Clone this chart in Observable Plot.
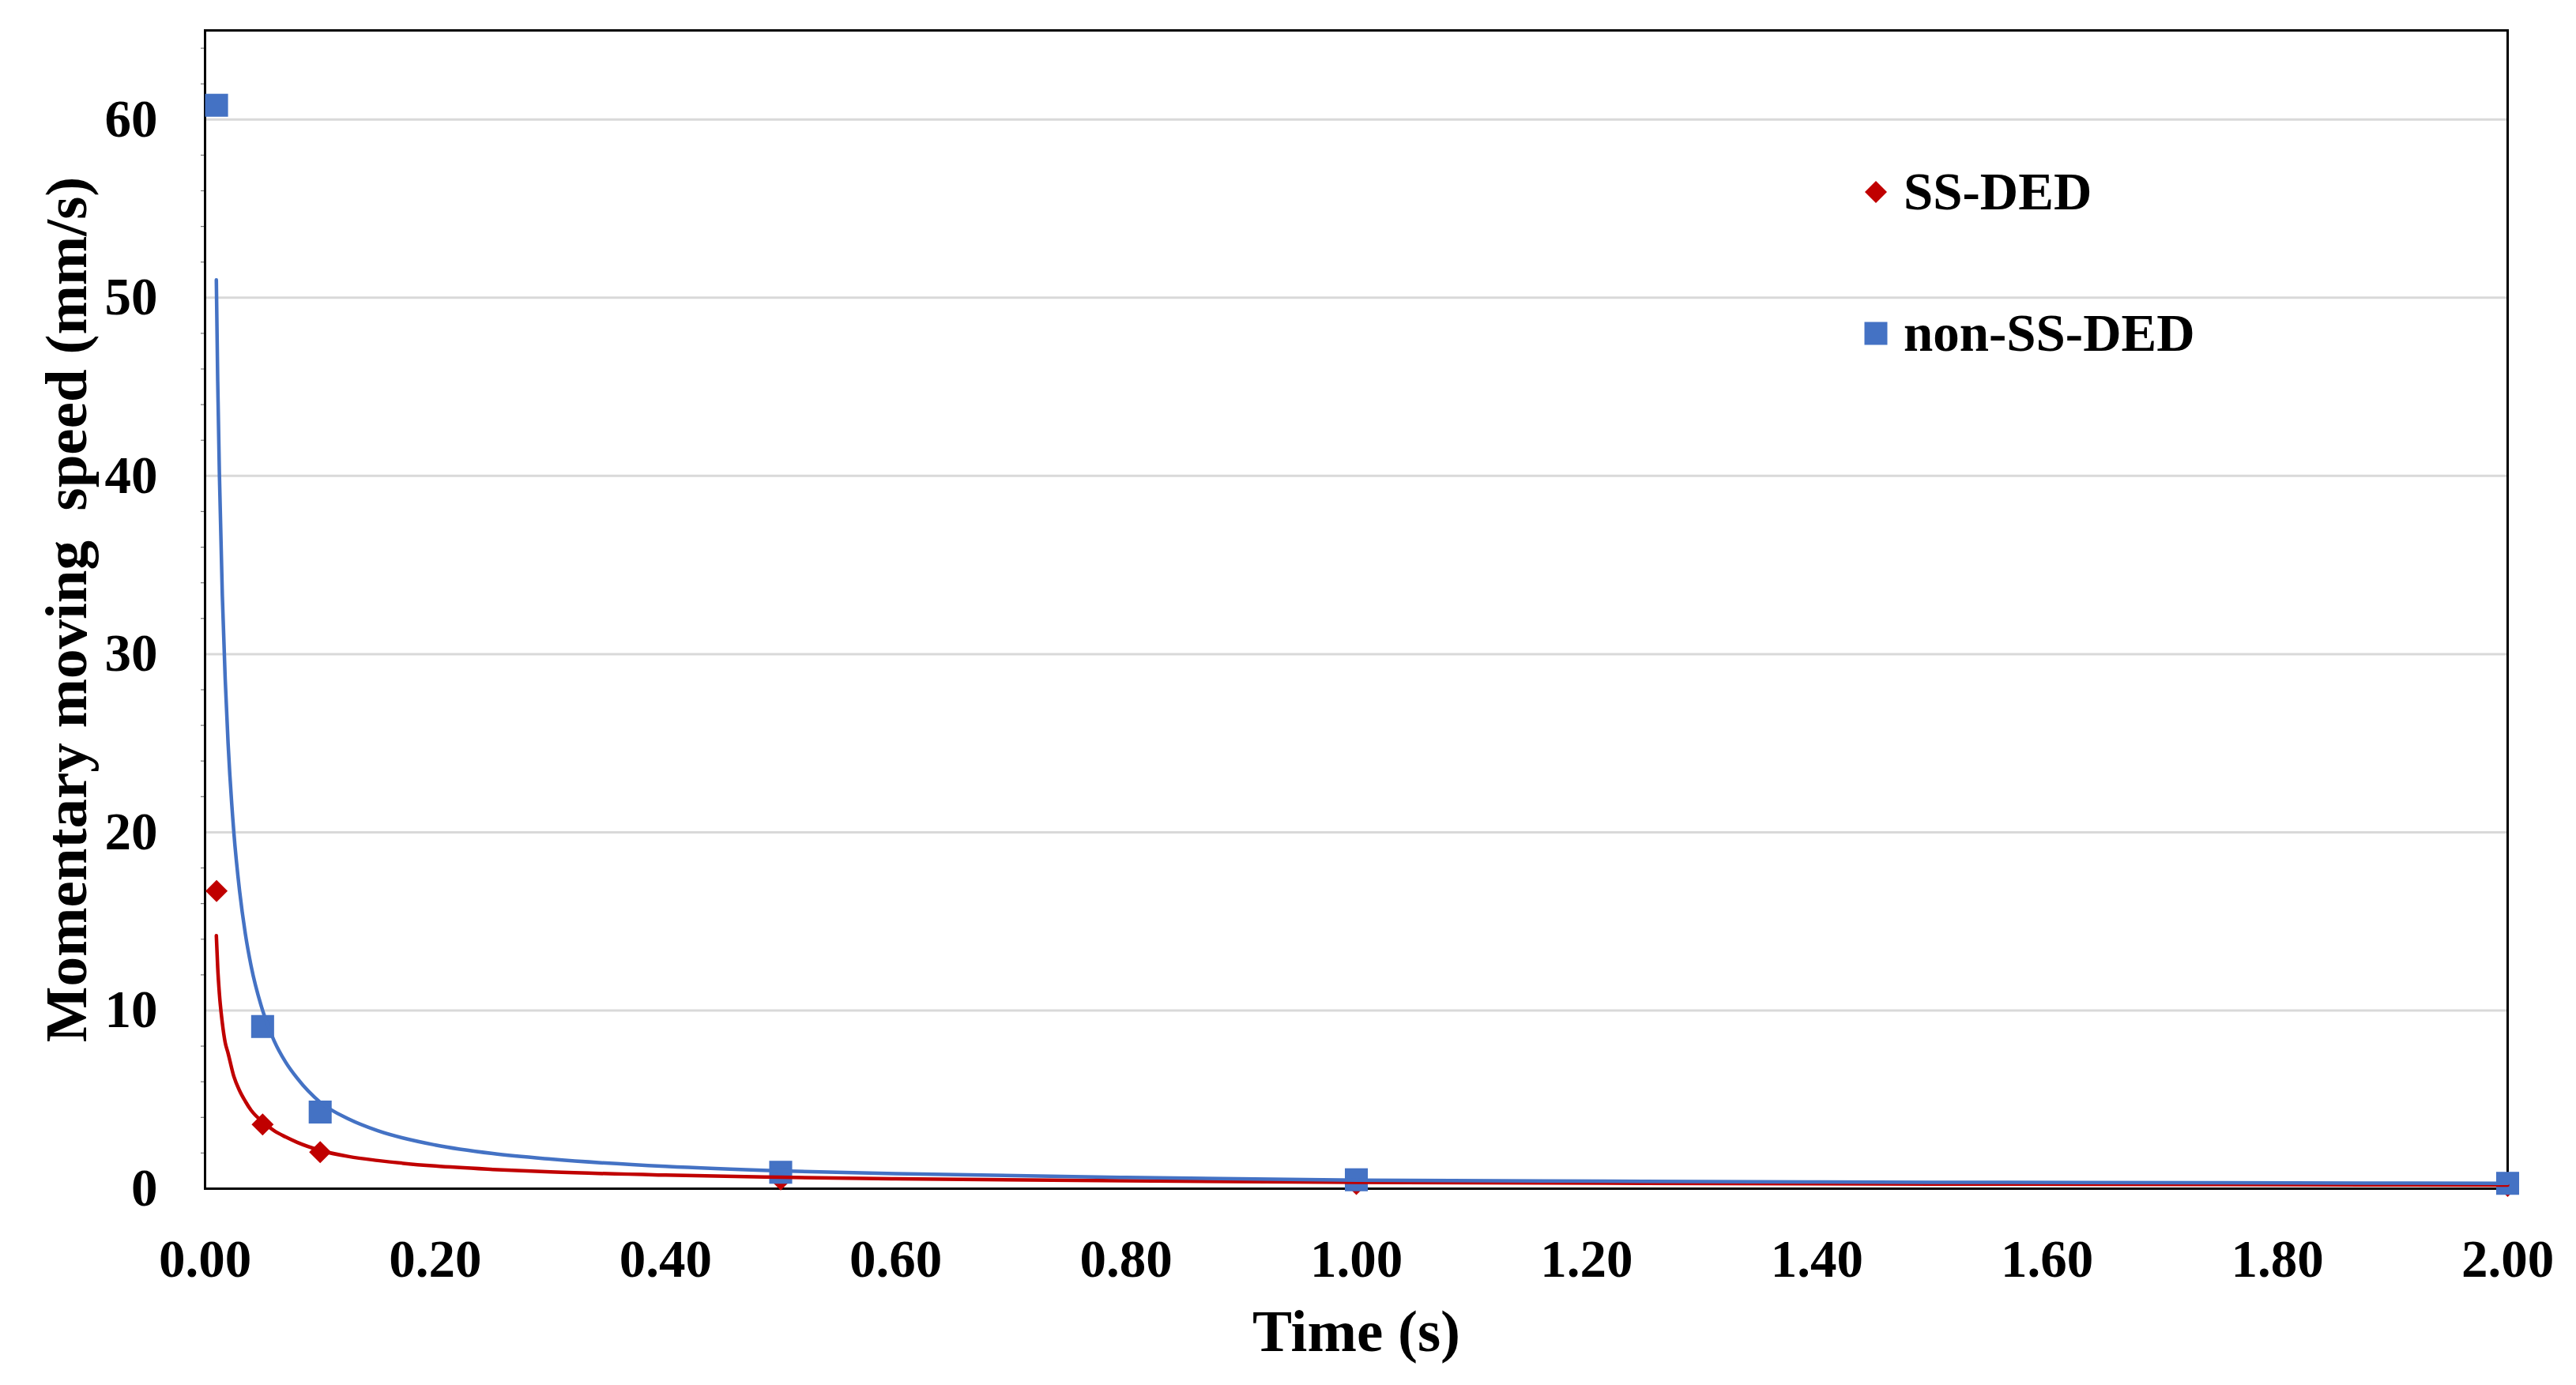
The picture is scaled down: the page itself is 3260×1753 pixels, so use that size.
<!DOCTYPE html>
<html>
<head>
<meta charset="utf-8">
<script src="https://cdn.jsdelivr.net/npm/d3@7"></script>
<script src="https://cdn.jsdelivr.net/npm/@observablehq/plot@0.6"></script>
<style>
  html, body { margin: 0; padding: 0; background: #fff; }
  #wrap { position: relative; width: 3260px; height: 1753px; }
  svg text { white-space: pre; }
  #legend { position: absolute; left: 0; top: 0; pointer-events: none; }
</style>
</head>
<body>
<div id="wrap"></div>
<script>
// ---- data ----
const seriesNames = ["SS-DED", "non-SS-DED"];
const seriesColors = ["#C00000", "#4472C4"];

const times = [0.01, 0.05, 0.1, 0.5, 1.0, 2.0];
const ssDed = [16.7, 3.6, 2.05, 0.52, 0.26, 0.15];
const nonSsDed = [60.8, 9.1, 4.3, 0.92, 0.5, 0.3];

// trendline curves
const trendTimes = [0.0098, 0.011, 0.0125, 0.015, 0.0175, 0.02, 0.025, 0.03, 0.035, 0.04, 0.05, 0.06, 0.07, 0.08, 0.1, 0.125, 0.15, 0.2, 0.25, 0.3, 0.4, 0.5, 0.6, 0.8, 1.0, 1.25, 1.5, 1.75, 2.0];
const ssDedTrend = [14.2, 12.4, 10.9, 9.3, 8.2, 7.6, 6.3, 5.5, 4.9, 4.4, 3.75, 3.25, 2.9, 2.6, 2.15, 1.8, 1.58, 1.27, 1.08, 0.94, 0.76, 0.64, 0.55, 0.44, 0.36, 0.3, 0.26, 0.23, 0.2];
const nonSsDedTrend = [51.0, 45.3, 40.0, 33.3, 28.6, 25.0, 20.0, 16.7, 14.3, 12.5, 10.0, 8.3, 7.1, 6.2, 4.85, 3.9, 3.25, 2.45, 1.97, 1.66, 1.25, 1.0, 0.84, 0.63, 0.48, 0.41, 0.36, 0.33, 0.3];

const xTicks = [0, 0.2, 0.4, 0.6, 0.8, 1.0, 1.2, 1.4, 1.6, 1.8, 2.0];
const yTicks = [0, 10, 20, 30, 40, 50, 60];
const yGrid = [10, 20, 30, 40, 50, 60];
const yMinorTicks = [2, 4, 6, 8, 12, 14, 16, 18, 22, 24, 26, 28, 32, 34, 36, 38, 42, 44, 46, 48, 52, 54, 56, 58, 62, 64];
const xLabel = "Time (s)";
const yLabel = "Momentary moving  speed (mm/s)";

// ---- tables ----
const seriesValues = [ssDed, nonSsDed];
const seriesTrends = [ssDedTrend, nonSsDedTrend];
const points = seriesNames.flatMap((s, k) => times.map((t, i) => ({series: s, t, v: seriesValues[k][i]})));
const trends = seriesNames.flatMap((s, k) => trendTimes.map((t, i) => ({series: s, t, v: seriesTrends[k][i]})));

const FONT = "'Liberation Serif', 'Times New Roman', serif";
const TICK_FS = 67;
const TITLE_FS = 75;

const chart = Plot.plot({
  width: 3260,
  height: 1753,
  marginLeft: 259,
  marginRight: 87,
  marginTop: 38,
  marginBottom: 249,
  style: {fontFamily: FONT, fontSize: TICK_FS + "px", fontWeight: "bold", color: "#000", background: "#fff", overflow: "visible"},
  x: {domain: [0, 2], label: null},
  y: {domain: [0, 65], label: null},
  marks: [
    Plot.gridY(yGrid, {stroke: "#d9d9d9", strokeOpacity: 1, strokeWidth: 3}),
    Plot.axisY(yMinorTicks, {tickSize: 5, tickFormat: () => "", stroke: "#777", strokeWidth: 1.2, label: null}),
    Plot.frame({stroke: "#000", strokeWidth: 3}),
    Plot.axisX(xTicks, {tickSize: 0, tickPadding: 64, tickFormat: d => d.toFixed(2), fontSize: TICK_FS, fontWeight: "bold", fontFamily: FONT, label: null}),
    Plot.axisY(yTicks, {tickSize: 0, tickPadding: 60, tickFormat: d => String(d), fontSize: TICK_FS, fontWeight: "bold", fontFamily: FONT, label: null}),
    Plot.dot(points.filter(d => d.series === seriesNames[0]), {x: "t", y: "v", symbol: "diamond2", r: 12.6, fill: seriesColors[0], stroke: "none"}),
    Plot.dot(points.filter(d => d.series === seriesNames[1]), {x: "t", y: "v", symbol: "square", r: 16.4, fill: seriesColors[1], stroke: "none"}),
    Plot.line(trends.filter(d => d.series === seriesNames[0]), {x: "t", y: "v", stroke: seriesColors[0], strokeWidth: 4.5, curve: "monotone-x"}),
    Plot.line(trends.filter(d => d.series === seriesNames[1]), {x: "t", y: "v", stroke: seriesColors[1], strokeWidth: 4.5, curve: "monotone-x"}),
    Plot.text([yLabel], {text: d => d, frameAnchor: "left", rotate: -90, dx: -151, lineAnchor: "bottom", textAnchor: "middle", fontSize: TITLE_FS, fontWeight: "bold", fontFamily: FONT}),
    Plot.text([xLabel], {text: d => d, frameAnchor: "bottom", dy: 205, lineAnchor: "bottom", textAnchor: "middle", fontSize: TITLE_FS, fontWeight: "bold", fontFamily: FONT})
  ]
});

const wrap = document.getElementById("wrap");
wrap.appendChild(chart);

// ---- legend (inside plot area, top right) ----
const ns = "http://www.w3.org/2000/svg";
const leg = document.createElementNS(ns, "svg");
leg.setAttribute("id", "legend");
leg.setAttribute("width", 3260);
leg.setAttribute("height", 1753);
const legendRows = [
  {name: seriesNames[0], color: seriesColors[0], shape: "diamond", cy: 243},
  {name: seriesNames[1], color: seriesColors[1], shape: "square", cy: 422}
];
const mx = 2374;
for (const row of legendRows) {
  let el;
  if (row.shape === "diamond") {
    el = document.createElementNS(ns, "path");
    el.setAttribute("d", `M${mx},${row.cy - 14}L${mx + 14},${row.cy}L${mx},${row.cy + 14}L${mx - 14},${row.cy}Z`);
  } else {
    el = document.createElementNS(ns, "rect");
    el.setAttribute("x", mx - 14.5);
    el.setAttribute("y", row.cy - 14.5);
    el.setAttribute("width", 29);
    el.setAttribute("height", 29);
  }
  el.setAttribute("fill", row.color);
  leg.appendChild(el);
  const tx = document.createElementNS(ns, "text");
  tx.setAttribute("x", 2409);
  tx.setAttribute("y", row.cy + 22);
  tx.setAttribute("font-family", FONT);
  tx.setAttribute("font-size", TICK_FS);
  tx.setAttribute("font-weight", "bold");
  tx.setAttribute("fill", "#000");
  tx.textContent = row.name;
  leg.appendChild(tx);
}
wrap.appendChild(leg);
</script>
</body>
</html>
